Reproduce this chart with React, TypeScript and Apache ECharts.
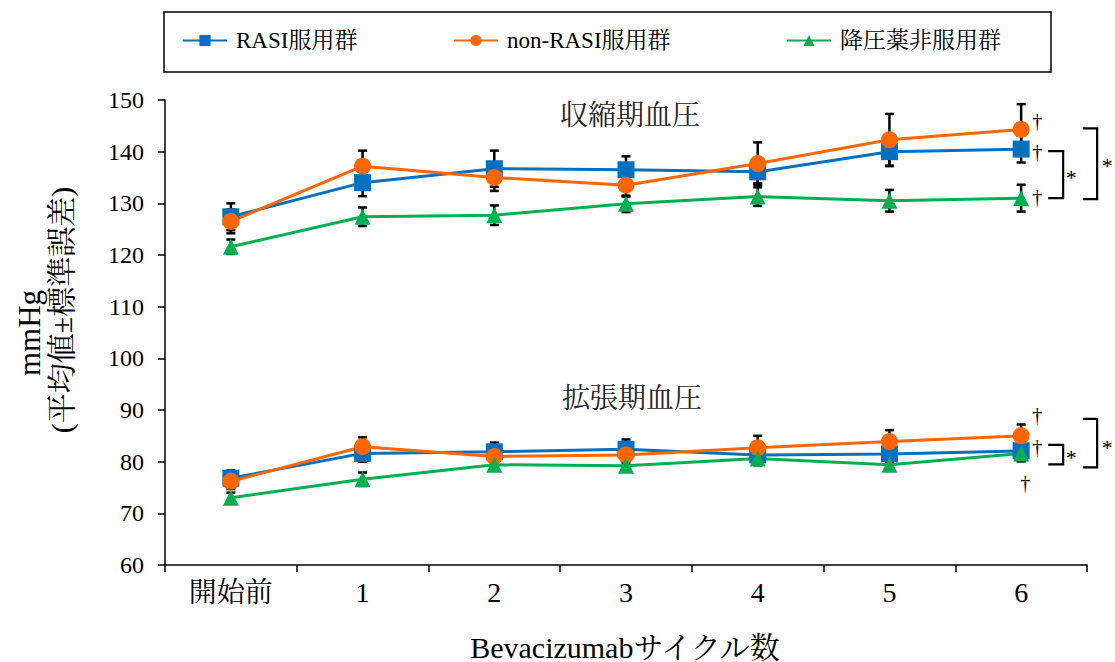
import React, { useEffect, useRef } from "react";
import * as echarts from "echarts";

const categories = ["開始前", "1", "2", "3", "4", "5", "6"];
const seriesNames = ["RASI服用群", "non-RASI服用群", "降圧薬非服用群"];

// systolic (収縮期血圧)
const sysRasi = [127.4, 134.0, 136.7, 136.5, 136.1, 140.0, 140.5];
const sysRasiSE = [2.6, 2.6, 3.5, 2.6, 2.2, 2.8, 2.6];
const sysNon = [126.5, 137.2, 135.0, 133.5, 137.7, 142.3, 144.3];
const sysNonSE = [2.3, 3.0, 2.6, 2.2, 4.1, 5.0, 4.9];
const sysNone = [121.6, 127.4, 127.7, 129.9, 131.3, 130.5, 131.0];
const sysNoneSE = [1.4, 1.8, 1.9, 1.6, 1.8, 2.1, 2.6];

// diastolic (拡張期血圧)
const diaRasi = [76.8, 81.6, 81.9, 82.4, 81.3, 81.5, 82.1];
const diaRasiSE = [1.5, 1.6, 1.8, 1.9, 1.5, 1.6, 2.0];
const diaNon = [76.2, 82.9, 81.0, 81.3, 82.7, 83.9, 85.0];
const diaNonSE = [1.5, 1.8, 1.5, 1.5, 2.3, 2.2, 2.2];
const diaNone = [73.0, 76.6, 79.4, 79.2, 80.6, 79.4, 81.6];
const diaNoneSE = [1.0, 1.3, 1.0, 1.0, 1.3, 1.0, 1.5];

const yTicks = { min: 60, max: 150, interval: 10 };

const COLORS = ["#0070C0", "#FF6600", "#00B050"];
const SYMBOLS = ["rect", "circle", "triangle"];
const SYMBOL_SIZES = [17, 17, 16];
const SERIF = "'Liberation Serif', 'Noto Serif CJK JP', 'Noto Sans CJK JP', serif";

function errData(vals: number[], se: number[]) {
  return vals.map((v, i) => [i, v - se[i], v + se[i]]);
}

function errorSeries(vals: number[], se: number[]) {
  return {
    type: "custom",
    z: 1,
    silent: true,
    data: errData(vals, se),
    renderItem: (params: any, api: any) => {
      const x = api.value(0);
      const lo = api.coord([x, api.value(1)]);
      const hi = api.coord([x, api.value(2)]);
      const cap = 4.5;
      const st = { stroke: "#000", lineWidth: 2.5 };
      return {
        type: "group",
        children: [
          { type: "line", shape: { x1: lo[0], y1: lo[1], x2: hi[0], y2: hi[1] }, style: st },
          { type: "line", shape: { x1: hi[0] - cap, y1: hi[1], x2: hi[0] + cap, y2: hi[1] }, style: st },
          { type: "line", shape: { x1: lo[0] - cap, y1: lo[1], x2: lo[0] + cap, y2: lo[1] }, style: st },
        ],
      };
    },
  };
}

function lineSeries(idx: number, data: number[]) {
  return {
    type: "line",
    name: seriesNames[idx],
    data,
    z: 3,
    symbol: SYMBOLS[idx],
    symbolSize: SYMBOL_SIZES[idx],
    showAllSymbol: true,
    lineStyle: { color: COLORS[idx], width: 3 },
    itemStyle: { color: COLORS[idx] },
  };
}

function txt(text: string, x: number, y: number, size: number, extra: any = {}) {
  return {
    type: "text",
    x,
    y,
    ...extra,
    style: {
      text,
      fontSize: size,
      fontFamily: SERIF,
      fill: extra.fill || "#000",
      align: "center",
      verticalAlign: "middle",
    },
  };
}

export default function App() {
  const ref = useRef<HTMLDivElement>(null);
  useEffect(() => {
    if (!ref.current) return;
    const chart = echarts.init(ref.current, undefined, { renderer: "svg" });
    const legendLefts = [182, 453, 786];
    const option: any = {
      animation: false,
      backgroundColor: "#fff",
      textStyle: { fontFamily: SERIF },
      grid: { left: 165, right: 28, top: 100, bottom: 97, outerBoundsMode: "none" },
      legend: seriesNames.map((n, i) => ({
        data: [n],
        left: legendLefts[i],
        top: 29,
        itemWidth: 44,
        itemHeight: 14,
        itemGap: 0,
        padding: 0,
        textStyle: { fontFamily: SERIF, fontSize: 23, color: "#000", padding: [0, 0, 0, 4] },
        selectedMode: false,
      })),
      xAxis: {
        type: "category",
        data: categories,
        boundaryGap: true,
        axisLine: { lineStyle: { color: "#000", width: 1.5 } },
        axisTick: { show: true, interval: 0, length: 7, lineStyle: { color: "#000", width: 1.5 } },
        axisLabel: { color: "#000", fontSize: 28, fontFamily: SERIF, margin: 13, interval: 0 },
        splitLine: { show: false },
      },
      yAxis: {
        type: "value",
        min: yTicks.min,
        max: yTicks.max,
        interval: yTicks.interval,
        axisLine: { show: true, lineStyle: { color: "#000", width: 1.5 } },
        axisTick: { show: true, length: 7, lineStyle: { color: "#000", width: 1.5 } },
        axisLabel: { color: "#000", fontSize: 24, fontFamily: SERIF, margin: 21 },
        splitLine: { show: false },
      },
      series: [
        errorSeries(sysRasi, sysRasiSE),
        errorSeries(sysNon, sysNonSE),
        errorSeries(sysNone, sysNoneSE),
        errorSeries(diaRasi, diaRasiSE),
        errorSeries(diaNon, diaNonSE),
        errorSeries(diaNone, diaNoneSE),
        lineSeries(0, sysRasi),
        lineSeries(1, sysNon),
        lineSeries(2, sysNone),
        lineSeries(0, diaRasi),
        lineSeries(1, diaNon),
        lineSeries(2, diaNone),
      ],
    };
    chart.setOption(option);

    const last = categories.length - 1;
    const px = (v: number) => chart.convertToPixel({ gridIndex: 0 }, [last, v]) as number[];
    const p = {
      sR: px(sysRasi[last]), sN: px(sysNon[last]), sO: px(sysNone[last]),
      dR: px(diaRasi[last]), dN: px(diaNon[last]), dO: px(diaNone[last]),
    };
    const x6 = p.sR[0];
    const dagger = (x: number, y: number) => txt("†", x, y, 20);
    const star = (x: number, y: number) => txt("*", x, y, 22);
    const bracket = (x0: number, x1: number, top: number, bottom: number) => ({
      type: "polyline",
      shape: { points: [[x0, top], [x1, top], [x1, bottom], [x0, bottom]] },
      style: { stroke: "#000", lineWidth: 2.2, fill: "none" },
    });
    const bx0 = x6 + 27, bx1 = x6 + 42, ox0 = x6 + 62, ox1 = x6 + 76;
    chart.setOption({
      graphic: [
        { type: "rect", shape: { x: 164, y: 12, width: 887, height: 60 }, style: { fill: "none", stroke: "#000", lineWidth: 1.5 } },
        txt("収縮期血圧", 630, 115, 28, { fill: "#222" }),
        txt("拡張期血圧", 632, 398, 28, { fill: "#222" }),
        txt("Bevacizumabサイクル数", 625, 647, 30),
        txt("mmHg", 29, 333, 31, { rotation: Math.PI / 2 }),
        txt("(平均値±標準誤差)", 61, 310, 30, { rotation: Math.PI / 2 }),
        dagger(x6 + 16, p.sN[1] - 8),
        dagger(x6 + 16, p.sR[1] + 3),
        dagger(x6 + 16, p.sO[1] - 1),
        dagger(x6 + 16, p.dN[1] - 21),
        dagger(x6 + 16, p.dR[1] - 4),
        dagger(x6 + 4, p.dO[1] + 30),
        bracket(bx0, bx1, p.sR[1] + 2, p.sO[1]),
        star(bx1 + 8, (p.sR[1] + p.sO[1]) / 2 + 4),
        bracket(ox0, ox1, p.sN[1] - 1, p.sO[1] + 1),
        star(ox1 + 10, (p.sN[1] + p.sO[1]) / 2 + 2),
        bracket(bx0, bx1, p.dR[1] - 6, p.dO[1] + 11),
        star(bx1 + 8, p.dO[1] + 4),
        bracket(ox0, ox1, p.dN[1] - 17, p.dO[1] + 14),
        star(ox1 + 10, p.dR[1] - 3),
      ],
    });
    return () => chart.dispose();
  }, []);
  return <div ref={ref} style={{ position: "fixed", left: 0, top: 0, width: 1115, height: 662 }} />;
}
